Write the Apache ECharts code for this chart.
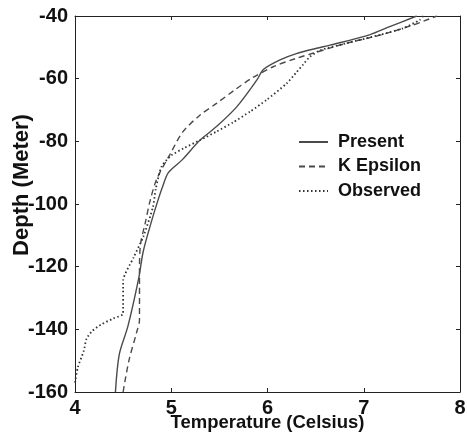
<!DOCTYPE html>
<html>
<head>
<meta charset="utf-8">
<script src="https://cdn.jsdelivr.net/npm/echarts@6/dist/echarts.min.js"></script>
<style>html,body{margin:0;padding:0;background:#fff;}#c{width:467px;height:437px;}</style>
</head>
<body>
<div id="c"></div>
<script>
// ---- data ----
var xTicks = [4, 5, 6, 7, 8];
var yTicks = [-160, -140, -120, -100, -80, -60, -40];
var seriesNames = ['Present', 'K Epsilon', 'Observed'];

var presentTemp  = [4.42, 4.46, 4.55, 4.66, 4.71, 4.80, 4.86, 4.91, 4.97, 5.11, 5.30, 5.47, 5.68, 5.89, 5.96, 6.13, 6.30, 6.51, 6.65, 7.06, 7.27, 7.55];
var presentDepth = [-160, -148, -139, -124, -115, -105, -99, -94.5, -90, -86, -79.6, -75.3, -69, -60.4, -57, -54, -52, -50.3, -49.3, -46, -43.4, -40];

var kepsTemp  = [4.50, 4.56, 4.64, 4.67, 4.67, 4.68, 4.73, 4.78, 4.85, 4.99, 5.12, 5.30, 5.47, 5.66, 5.85, 6.06, 6.30, 6.47, 6.82, 7.17, 7.51, 7.76];
var kepsDepth = [-160, -150, -141, -137, -122, -113, -106, -99, -92, -84, -77, -71.6, -67.9, -63.6, -59.6, -56.2, -53.5, -51.9, -48.7, -46.1, -42.9, -40];

var obsTemp  = [4.00, 4.03, 4.09, 4.12, 4.18, 4.27, 4.40, 4.50, 4.50, 4.61, 4.71, 4.81, 4.84, 4.90, 5.00, 5.13, 5.30, 5.47, 5.64, 5.82, 5.99, 6.20, 6.30, 6.37, 6.44, 6.55, 6.82, 7.17, 7.41, 7.58, 7.62];
var obsDepth = [-157, -152, -147, -143, -140.5, -138.5, -136.5, -135, -124.5, -117, -110.4, -101, -95, -88, -84.5, -82.2, -79.6, -76.9, -74, -70.5, -66.8, -61.5, -58, -55.5, -53, -50.9, -48.7, -46, -43.9, -41.3, -40];

function pairs(t, d) { return t.map(function (v, i) { return [v, d[i]]; }); }

var FONT = 'Liberation Sans, Arial, sans-serif';
var chart = echarts.init(document.getElementById('c'), null, { renderer: 'canvas' });

var axisLineStyle = { color: '#222', width: 1 };
var option = {
  animation: false,
  backgroundColor: '#fff',
  grid: { left: 75, right: 7, top: 16, bottom: 45, containLabel: false, outerBoundsMode: 'none' },
  legend: {
    data: seriesNames,
    left: 298, top: 132, padding: 0,
    orient: 'vertical',
    itemWidth: 29, itemHeight: 14, itemGap: 4.5,
    itemStyle: { opacity: 0 },
    textStyle: { fontFamily: FONT, fontSize: 18, fontWeight: 'bold', color: '#111', lineHeight: 20, padding: [0, 0, 0, 5] }
  },
  xAxis: [{
    type: 'value', min: 4, max: 8, interval: 1, position: 'bottom',
    name: 'Temperature (Celsius)', nameLocation: 'middle', nameGap: 21, nameMoveOverlap: false,
    nameTextStyle: { fontFamily: FONT, fontSize: 18.5, fontWeight: 'bold', color: '#111' },
    axisLine: { show: true, lineStyle: axisLineStyle },
    axisTick: { show: true, inside: true, length: 4, lineStyle: axisLineStyle },
    axisLabel: { fontFamily: FONT, fontSize: 20, fontWeight: 'bold', color: '#111', margin: 6,
      formatter: function (v) { return xTicks.indexOf(v) >= 0 ? String(v) : ''; } },
    splitLine: { show: false }
  }, {
    type: 'value', min: 4, max: 8, interval: 1, position: 'top',
    axisLine: { show: true, lineStyle: axisLineStyle },
    axisTick: { show: true, inside: true, length: 4, lineStyle: axisLineStyle },
    axisLabel: { show: false }, splitLine: { show: false }
  }],
  yAxis: [{
    type: 'value', min: -160, max: -40, interval: 20, position: 'left',
    name: 'Depth (Meter)', nameLocation: 'middle', nameGap: 42, nameMoveOverlap: false,
    nameTextStyle: { fontFamily: FONT, fontSize: 22, fontWeight: 'bold', color: '#111', padding: [0, 0, 0, 38] },
    axisLine: { show: true, onZero: false, lineStyle: axisLineStyle },
    axisTick: { show: true, inside: true, length: 4, lineStyle: axisLineStyle },
    axisLabel: { fontFamily: FONT, fontSize: 20, fontWeight: 'bold', color: '#111', margin: 7,
      formatter: function (v) { return yTicks.indexOf(v) >= 0 ? String(v) : ''; } },
    splitLine: { show: false }
  }, {
    type: 'value', min: -160, max: -40, interval: 20, position: 'right',
    axisLine: { show: true, onZero: false, lineStyle: axisLineStyle },
    axisTick: { show: true, inside: true, length: 4, lineStyle: axisLineStyle },
    axisLabel: { show: false }, splitLine: { show: false }
  }],
  series: [{
    name: seriesNames[0], type: 'line', data: pairs(presentTemp, presentDepth),
    showSymbol: false, symbol: 'none', smooth: 0.3,
    lineStyle: { color: '#4a4a4a', width: 1.4, type: 'solid' },
    itemStyle: { color: '#4a4a4a' }
  }, {
    name: seriesNames[1], type: 'line', data: pairs(kepsTemp, kepsDepth),
    showSymbol: false, symbol: 'none', smooth: 0.3,
    lineStyle: { color: '#4a4a4a', width: 1.4, type: [6, 4] },
    itemStyle: { color: '#4a4a4a' }
  }, {
    name: seriesNames[2], type: 'line', data: pairs(obsTemp, obsDepth),
    showSymbol: false, symbol: 'none', smooth: 0.2,
    lineStyle: { color: '#333', width: 1.8, type: [1.5, 2.5] },
    itemStyle: { color: '#333' }
  }]
};
chart.setOption(option);
</script>
</body>
</html>
